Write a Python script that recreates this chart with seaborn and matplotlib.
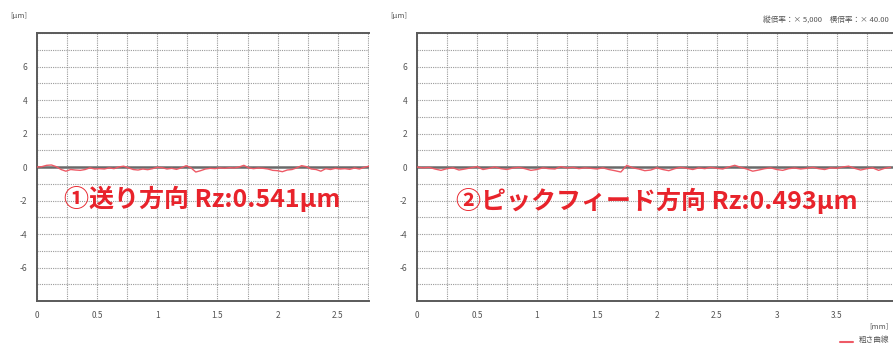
import numpy as np
import pandas as pd
import matplotlib
matplotlib.use("Agg")
import matplotlib.pyplot as plt
import seaborn as sns

# ---- data ----
left_step = 0.04
left_profile = [0.0, 0.02, 0.1, 0.12, 0.02, -0.15, -0.25, -0.15, -0.18, -0.2,
                -0.15, -0.05, -0.12, -0.1, -0.12, -0.05, -0.1, 0.0, 0.05, -0.05,
                -0.15, -0.18, -0.12, -0.16, -0.1, -0.02, -0.04, -0.12, -0.08, -0.14,
                -0.05, 0.08, -0.05, -0.3, -0.22, -0.12, -0.08, -0.1, -0.05, -0.08,
                -0.04, -0.06, 0.0, 0.1, -0.05, -0.1, -0.06, -0.08, -0.12, -0.2,
                -0.22, -0.28, -0.18, -0.15, -0.05, 0.08, 0.02, -0.12, -0.15, -0.25,
                -0.1, -0.15, -0.08, -0.12, -0.1, -0.14, -0.06, -0.12, -0.02, 0.05]
right_step = 0.05
right_profile = [0.0, -0.05, -0.02, -0.12, -0.2, -0.1, -0.05, -0.18, -0.12, -0.05,
                 0.02, -0.15, -0.08, 0.0, -0.1, -0.15, -0.06, -0.02, -0.1, -0.2,
                 -0.15, -0.05, -0.1, -0.12, 0.02, -0.06, -0.02, -0.1, -0.05, -0.08,
                 -0.12, -0.05, -0.15, -0.22, -0.3, 0.1, -0.05, -0.12, -0.22, -0.18,
                 -0.05, -0.15, -0.22, -0.1, -0.02, -0.08, -0.15, -0.05, -0.1, -0.02,
                 -0.08, -0.12, 0.0, 0.1, -0.02, -0.12, -0.25, -0.18, -0.1, -0.05,
                 -0.15, -0.2, -0.1, -0.06, -0.12, -0.08, -0.02, -0.1, -0.15, -0.05,
                 -0.08, 0.0, 0.05, -0.08, -0.18, -0.1, -0.05, -0.2, -0.08, -0.02]
left_label = "①送り方向 Rz:0.541μm"
right_label = "②ピックフィード方向 Rz:0.493μm"
y_ticks = [-6, -4, -2, 0, 2, 4, 6]
left_x_ticks = [0, 0.5, 1, 1.5, 2, 2.5]
left_x_labels = ["0", "0.5", "1", "1.5", "2", "2.5"]
right_x_ticks = [0, 0.5, 1, 1.5, 2, 2.5, 3, 3.5]
right_x_labels = ["0", "0.5", "1", "1.5", "2", "2.5", "3", "3.5"]
scale_text = "縦倍率：× 5,000　横倍率：× 40.00"
legend_text = "粗さ曲線"

sns.set_style("white")
plt.rcParams['font.family'] = ['Noto Sans CJK JP', 'DejaVu Sans']

W, H = 893, 349
fig = plt.figure(figsize=(W / 100, H / 100), dpi=100)

line_col = "#ee5a66"
text_red = "#e8232b"
grid_col = "#9a9a9a"
spine_col = "#5a5a5a"
tick_col = "#555555"


def make_panel(left_px, right_px, xmax, prof, step, xt, xl):
    ax = fig.add_axes([left_px / W, 1 - 301 / H, (right_px - left_px) / W, (301 - 33) / H])
    df = pd.DataFrame({"x": np.arange(len(prof)) * step, "y": prof})
    ax.axhline(0, color="#6a6a6a", lw=1.8, zorder=2)
    sns.lineplot(data=df, x="x", y="y", ax=ax, color=line_col, lw=1.0, zorder=3)
    ax.set_xlim(0, xmax)
    ax.set_ylim(-8, 8)
    ax.set_xticks(xt)
    ax.set_xticklabels(xl)
    ax.set_xticks(np.arange(0, xmax, 0.05), minor=True)
    ax.set_yticks(y_ticks)
    ax.set_yticklabels([str(v) for v in y_ticks])
    ax.set_yticks(np.arange(-8, 8.01, 0.2), minor=True)
    for gx in np.arange(0, xmax, 0.25):
        ax.axvline(gx, color=grid_col, ls=(0, (1, 1)), lw=0.8, zorder=1)
    for gy in range(-8, 9):
        ax.axhline(gy, color=grid_col, ls=(0, (1, 1)), lw=0.8, zorder=1)
    ax.grid(False)
    ax.tick_params(axis="x", which="major", direction="inout", length=6, width=0.8,
                   colors=tick_col, labelsize=6, pad=4)
    ax.tick_params(axis="x", which="minor", direction="in", length=3, width=0.6, colors=tick_col)
    ax.tick_params(axis="y", which="major", direction="out", length=5, width=0.8,
                   colors=tick_col, labelsize=6, pad=2)
    ax.tick_params(axis="y", which="minor", direction="in", length=3, width=0.6, colors=tick_col)
    ax.set_xlabel("")
    ax.set_ylabel("")
    for s in ["top", "left", "bottom"]:
        ax.spines[s].set_color(spine_col)
        ax.spines[s].set_linewidth(1.4)
    ax.spines["right"].set_visible(False)
    return ax


axL = make_panel(37, 369, 2.76, left_profile, left_step, left_x_ticks, left_x_labels)
axR = make_panel(417, 893, 3.97, right_profile, right_step, right_x_ticks, right_x_labels)

fig.text(10 / W, 1 - 16 / H, "[μm]", fontsize=5.5, color="#555555", va="center")
fig.text(390 / W, 1 - 16 / H, "[μm]", fontsize=5.5, color="#555555", va="center")
fig.text(763 / W, 1 - 20 / H, scale_text, fontsize=5.5, color="#555555", va="center")
fig.text(889 / W, 1 - 326 / H, "[mm]", fontsize=5.5, color="#555555", va="center", ha="right")
fig.lines.append(plt.Line2D([840 / W, 853 / W], [1 - 342 / H, 1 - 342 / H],
                            transform=fig.transFigure, color=line_col, lw=1.5))
fig.text(889 / W, 1 - 340 / H, legend_text, fontsize=5.5, color="#555555", va="center", ha="right")

fig.text(202 / W, 1 - 199 / H, left_label, fontsize=18, fontweight="bold",
         color=text_red, ha="center", va="center")
fig.text(657 / W, 1 - 201 / H, right_label, fontsize=18, fontweight="bold",
         color=text_red, ha="center", va="center")

fig.savefig("out.png", dpi=100)
